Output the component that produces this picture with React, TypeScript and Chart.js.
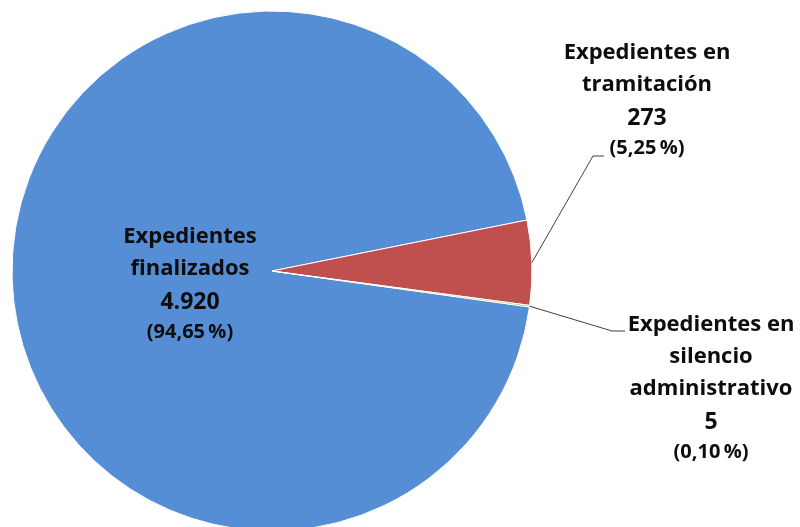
import React, { useEffect, useRef } from "react";
import { Chart, registerables } from "chart.js";

Chart.register(...registerables);

const categories: string[][] = [
  ["Expedientes", "finalizados"],
  ["Expedientes en", "tramitación"],
  ["Expedientes en", "silencio", "administrativo"],
];
const values: number[] = [4920, 273, 5];
const colors: string[] = ["#558ED5", "#C0504D", "#9BBB59"];

// label layout (first line centre) and leader elbows
const labelPos = [
  { x: 190, y: 237 },
  { x: 647, y: 53 },
  { x: 711, y: 325 },
];
const leaders: ({ bx: number; by: number; ex: number; ey: number } | null)[] = [
  null,
  { bx: 593, by: 156, ex: 604, ey: 156 },
  { bx: 612, by: 331, ex: 625, ey: 331 },
];

const fmtInt = (v: number) => String(v).replace(/\B(?=(\d{3})+(?!\d))/g, ".");
const fmtPct = (v: number, t: number) => (v / t * 100).toFixed(2).replace(".", ",") + "\u2009%";

const FONT = '"Open Sans", Lato, sans-serif';

const labelPlugin = {
  id: "pieLabels",
  afterDatasetsDraw(chart: any) {
    const ctx = chart.ctx as CanvasRenderingContext2D;
    const meta = chart.getDatasetMeta(0);
    const total = values.reduce((a, b) => a + b, 0);
    ctx.save();
    meta.data.forEach((arc: any, i: number) => {
      const L = leaders[i];
      if (L) {
        const mid = (arc.startAngle + arc.endAngle) / 2;
        const sx = arc.x + Math.cos(mid) * arc.outerRadius;
        const sy = arc.y + Math.sin(mid) * arc.outerRadius;
        ctx.strokeStyle = "#404040";
        ctx.lineWidth = 1;
        ctx.beginPath();
        ctx.moveTo(sx, sy);
        ctx.lineTo(L.bx, L.by);
        ctx.lineTo(L.ex, L.ey);
        ctx.stroke();
      }
      const p = labelPos[i];
      const n = categories[i].length;
      const lines: { t: string; s: number; dy: number }[] = [
        ...categories[i].map((t, k) => ({ t, s: 22, dy: k * 32 })),
        { t: fmtInt(values[i]), s: 23, dy: n * 32 + 1 },
        { t: "(" + fmtPct(values[i], total) + ")", s: 20, dy: n * 32 + 31 },
      ];
      ctx.fillStyle = "#0d0d0d";
      ctx.textAlign = "center";
      ctx.textBaseline = "middle";
      lines.forEach((ln) => {
        ctx.font = `bold ${ln.s}px ${FONT}`;
        ctx.fillText(ln.t, p.x, p.y + ln.dy);
      });
    });
    ctx.restore();
  },
};

export default function App() {
  const ref = useRef<HTMLCanvasElement | null>(null);
  useEffect(() => {
    if (!ref.current) return;
    const chart = new Chart(ref.current, {
      type: "pie",
      data: {
        labels: categories.map((c) => c.join(" ")),
        datasets: [
          {
            data: values,
            backgroundColor: colors,
            borderColor: "#ffffff",
            borderWidth: 1,
            clip: false as any,
          },
        ],
      },
      options: {
        responsive: false,
        animation: false,
        radius: 260,
        rotation: 97.95,
        layout: { padding: { left: 0, right: 256, top: 15, bottom: 0 } },
        plugins: {
          legend: { display: false },
          tooltip: { enabled: false },
          title: { display: false },
        },
      } as any,
      plugins: [labelPlugin],
    });
    return () => chart.destroy();
  }, []);
  return (
    <div style={{ position: "absolute", left: 0, top: 0, width: 800, height: 527, overflow: "hidden", background: "#fff" }}>
      <canvas ref={ref} width={800} height={527} style={{ display: "block" }} />
    </div>
  );
}
